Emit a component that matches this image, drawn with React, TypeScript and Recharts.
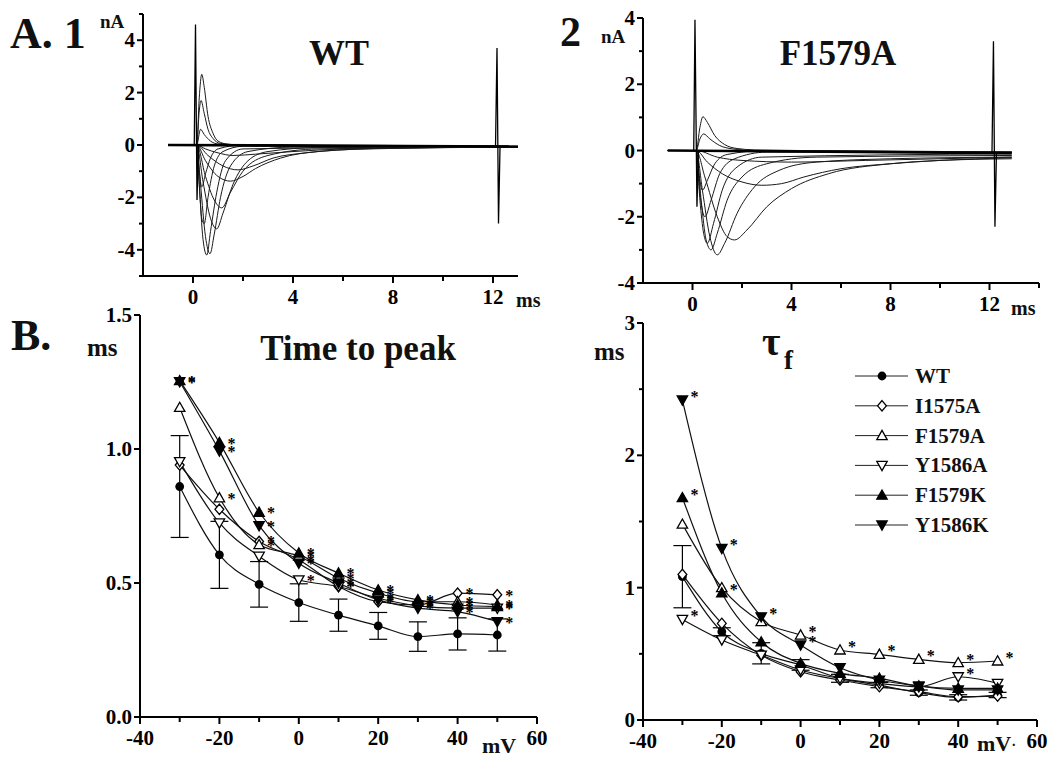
import React from 'react';
import { LineChart, Line, XAxis, YAxis, ErrorBar } from 'recharts';

const FONT = '"Liberation Serif", "Times New Roman", serif';
const boldStyle = { fontFamily: FONT, fontWeight: 700 } as const;

// ---- A: current traces, points are [ms, nA] ----
const wtBaseline = [[-1, 0], [13, -0.06]];
const wtSpikes = [
  [[0.05, 0], [0.1, 4.6], [0.16, -2.1], [0.22, 0]],
  [[12.1, -0.1], [12.16, 3.7], [12.22, -3.0], [12.28, -0.1]],
];
const wtTraces = [
  [[-1, 0], [0.15, 0], [0.25, 1.8], [0.35, 2.7], [0.45, 2.2], [0.6, 1.1], [0.8, 0.45], [1.0, 0.15], [1.4, 0.03], [2, 0], [13, -0.05]],
  [[-1, 0], [0.15, 0], [0.25, 1.3], [0.32, 1.7], [0.45, 1.2], [0.6, 0.6], [0.8, 0.25], [1.1, 0.06], [2, 0], [13, -0.05]],
  [[-1, 0], [0.15, 0], [0.3, 0.6], [0.45, 0.4], [0.7, 0.15], [1.0, 0.04], [2, 0], [13, -0.05]],
  [[-1, 0], [0.15, 0], [0.5, -0.15], [1.0, -0.3], [1.6, -0.4], [2.5, -0.35], [4, -0.25], [6, -0.15], [9, -0.1], [13, -0.08]],
  [[-1, 0], [0.15, 0], [0.6, -0.4], [1.2, -0.8], [1.8, -0.95], [2.4, -0.8], [3.2, -0.5], [4.5, -0.3], [7, -0.15], [13, -0.08]],
  [[-1, 0], [0.15, 0], [0.5, -0.6], [1.0, -1.2], [1.5, -1.38], [2.0, -1.2], [2.5, -0.9], [3.5, -0.5], [5, -0.25], [8, -0.12], [13, -0.08]],
  [[-1, 0], [0.15, 0], [0.5, -1.2], [0.85, -2.1], [1.15, -2.4], [1.5, -1.8], [2.0, -1.0], [3, -0.4], [5, -0.15], [13, -0.08]],
  [[-1, 0], [0.15, 0], [0.4, -1.4], [0.7, -2.8], [0.95, -3.2], [1.2, -2.6], [1.6, -1.5], [2.2, -0.6], [3, -0.25], [5, -0.1], [13, -0.08]],
  [[-1, 0], [0.15, 0], [0.3, -1.5], [0.5, -3.5], [0.68, -4.15], [0.85, -3.4], [1.1, -2.0], [1.5, -0.8], [2.2, -0.25], [4, -0.08], [13, -0.06]],
  [[-1, 0], [0.15, 0], [0.25, -1.5], [0.4, -3.6], [0.55, -4.2], [0.7, -3.3], [0.95, -1.8], [1.3, -0.6], [2, -0.15], [13, -0.05]],
  [[-1, 0], [0.15, 0], [0.25, -1.5], [0.35, -2.8], [0.45, -3.0], [0.6, -2.0], [0.85, -0.8], [1.2, -0.25], [2, -0.05], [13, -0.05]],
  [[-1, 0], [0.15, 0], [0.25, -1.0], [0.35, -1.6], [0.5, -1.1], [0.7, -0.5], [1, -0.15], [2, 0], [13, -0.05]],
];

const mutBaseline = [[-1, 0], [12.9, -0.08]];
const mutSpikes = [
  [[0.05, 0], [0.1, 3.95], [0.18, -1.7], [0.24, 0]],
  [[12.1, -0.1], [12.16, 3.3], [12.22, -2.3], [12.28, -0.1]],
];
const mutTraces = [
  [[-1, 0], [0.15, 0], [0.3, 0.7], [0.42, 1.02], [0.6, 0.85], [0.9, 0.45], [1.3, 0.18], [1.8, 0.06], [2.5, 0.02], [12.9, -0.05]],
  [[-1, 0], [0.15, 0], [0.3, 0.35], [0.45, 0.5], [0.7, 0.35], [1.1, 0.15], [1.6, 0.05], [2.5, 0], [12.9, -0.05]],
  [[-1, 0], [0.15, 0], [1, -0.2], [2, -0.3], [4, -0.35], [7, -0.3], [10, -0.25], [12.9, -0.2]],
  [[-1, 0], [0.15, 0], [0.6, -0.35], [1.2, -0.7], [2.0, -0.95], [2.8, -1.05], [3.6, -1.0], [4.5, -0.8], [6, -0.55], [8, -0.4], [10, -0.3], [12.9, -0.22]],
  [[-1, 0], [0.15, 0], [0.5, -0.8], [1.0, -2.0], [1.4, -2.6], [1.7, -2.7], [2.2, -2.4], [3, -1.7], [4, -1.15], [5.5, -0.7], [8, -0.4], [10, -0.3], [12.9, -0.25]],
  [[-1, 0], [0.15, 0], [0.4, -1.2], [0.7, -2.6], [1.0, -3.15], [1.3, -2.8], [1.8, -1.9], [2.5, -1.1], [3.5, -0.6], [5, -0.35], [8, -0.25], [12.9, -0.2]],
  [[-1, 0], [0.15, 0], [0.35, -1.5], [0.55, -2.7], [0.75, -3.0], [1.0, -2.5], [1.4, -1.5], [2, -0.8], [3, -0.4], [5, -0.2], [12.9, -0.15]],
  [[-1, 0], [0.15, 0], [0.3, -1.5], [0.45, -2.5], [0.6, -2.8], [0.85, -2.2], [1.2, -1.2], [1.8, -0.5], [2.8, -0.2], [12.9, -0.1]],
  [[-1, 0], [0.15, 0], [0.3, -1.3], [0.5, -2.0], [0.75, -1.5], [1.1, -0.7], [1.7, -0.25], [3, -0.05], [12.9, -0.05]],
  [[-1, 0], [0.15, 0], [0.28, -0.8], [0.4, -1.2], [0.6, -0.9], [0.9, -0.4], [1.4, -0.12], [3, 0], [12.9, -0.05]],
];

// ---- B: kinetics vs voltage ----
const voltages = [-30, -20, -10, 0, 10, 20, 30, 40, 50];

const ttpWT = [0.86, 0.605, 0.495, 0.427, 0.38, 0.34, 0.3, 0.31, 0.306];
const ttpWTErr = [0.19, 0.125, 0.085, 0.07, 0.06, 0.05, 0.055, 0.06, 0.06];
const ttpI1575A = [0.94, 0.775, 0.655, 0.587, 0.487, 0.43, 0.418, 0.462, 0.456];
const ttpF1579A = [1.155, 0.818, 0.643, 0.6, 0.518, 0.462, 0.43, 0.43, 0.418];
const ttpY1586A = [0.953, 0.724, 0.6, 0.512, 0.487, 0.443, 0.415, 0.406, 0.406];
const ttpF1579K = [1.255, 1.024, 0.764, 0.612, 0.537, 0.474, 0.437, 0.418, 0.412];
const ttpY1586K = [1.251, 0.993, 0.714, 0.574, 0.5, 0.437, 0.406, 0.393, 0.356];

const tauWT = [1.083, 0.667, 0.504, 0.416, 0.315, 0.264, 0.207, 0.171, 0.189];
const tauWTErr = [0.235, 0.03, 0.08, 0.04, 0.03, 0.02, 0.02, 0.02, 0.02];
const tauI1575A = [1.1, 0.73, 0.49, 0.365, 0.302, 0.252, 0.214, 0.176, 0.181];
const tauF1579A = [1.48, 1.0, 0.743, 0.642, 0.529, 0.496, 0.458, 0.433, 0.446];
const tauY1586A = [0.76, 0.605, 0.49, 0.378, 0.315, 0.277, 0.252, 0.327, 0.277];
const tauF1579K = [1.68, 0.96, 0.59, 0.428, 0.353, 0.315, 0.257, 0.239, 0.239];
const tauY1586K = [2.418, 1.297, 0.78, 0.567, 0.395, 0.302, 0.257, 0.227, 0.227];

// significance marks (asterisks)
const N = false, Y = true;
const ttpSig = {
  WT: [N, N, N, N, N, N, N, N, N],
  I1575A: [N, N, Y, Y, Y, Y, Y, Y, Y],
  F1579A: [N, Y, Y, Y, Y, Y, Y, Y, Y],
  Y1586A: [N, N, N, Y, Y, Y, Y, Y, Y],
  F1579K: [Y, Y, Y, Y, Y, Y, Y, Y, Y],
  Y1586K: [Y, Y, Y, Y, Y, Y, Y, Y, Y],
};
const tauSig = {
  WT: [N, N, N, N, N, N, N, N, N],
  I1575A: [N, N, N, N, N, N, N, N, N],
  F1579A: [N, N, N, Y, Y, Y, Y, Y, Y],
  Y1586A: [Y, N, N, N, N, N, N, Y, N],
  F1579K: [Y, Y, N, N, N, N, N, N, N],
  Y1586K: [Y, Y, Y, Y, N, N, N, N, N],
};

const seriesNames = ['WT', 'I1575A', 'F1579A', 'Y1586A', 'F1579K', 'Y1586K'];
const seriesShapes = ['circle', 'diamond', 'up', 'down', 'upFill', 'downFill'];
const ttpValues = [ttpWT, ttpI1575A, ttpF1579A, ttpY1586A, ttpF1579K, ttpY1586K];
const tauValues = [tauWT, tauI1575A, tauF1579A, tauY1586A, tauF1579K, tauY1586K];

const toPts = (arr: number[][]) => arr.map(([t, i]) => ({ t, i }));

const buildSeries = (vals: number[], sig: boolean[], err?: number[]) =>
  voltages.map((v, k) => ({ v, y: vals[k], sig: sig[k], err: err ? err[k] : undefined }));

function Marker({ cx, cy, shape }: { cx: number; cy: number; shape: string }) {
  const s = 5.2;
  switch (shape) {
    case 'circle':
      return <circle cx={cx} cy={cy} r={4.4} fill="#000" />;
    case 'diamond':
      return <polygon points={`${cx},${cy - s} ${cx + 4.4},${cy} ${cx},${cy + s} ${cx - 4.4},${cy}`} fill="#fff" stroke="#000" strokeWidth={1.3} />;
    case 'up':
    case 'upFill':
      return <polygon points={`${cx},${cy - s} ${cx + s},${cy + 4} ${cx - s},${cy + 4}`} fill={shape === 'up' ? '#fff' : '#000'} stroke="#000" strokeWidth={1.3} />;
    default:
      return <polygon points={`${cx},${cy + s} ${cx + s},${cy - 4} ${cx - s},${cy - 4}`} fill={shape === 'down' ? '#fff' : '#000'} stroke="#000" strokeWidth={1.3} />;
  }
}

const makeDot = (shape: string, dx: number, dy: number) => (p: any) => {
  const { cx, cy, index, payload } = p;
  if (cx == null || cy == null) return <g key={`e${index}`} />;
  return (
    <g key={`d${index}`}>
      <Marker cx={cx} cy={cy} shape={shape} />
      {payload.sig && (
        <text x={cx + dx} y={cy + dy} fontFamily="Liberation Serif" fontWeight={700} fontSize={16} fill="#000" textAnchor="middle">*</text>
      )}
    </g>
  );
};

const bottomTick = (labels: number[], fmt?: (v: number) => string) => (p: any) => {
  const { x, y, payload } = p;
  const v = payload.value;
  const major = labels.some((l) => Math.abs(l - v) < 1e-6);
  return (
    <g key={`bt${v}`}>
      <line x1={x} y1={y} x2={x} y2={y + (major ? 7 : 5)} stroke="#000" strokeWidth={2} />
      {major && (
        <text x={x} y={y + 28} textAnchor="middle" fontFamily="Liberation Serif" fontWeight={700} fontSize={21} fill="#000">
          {fmt ? fmt(v) : String(v)}
        </text>
      )}
    </g>
  );
};

const leftTick = (labels: number[], fmt?: (v: number) => string) => (p: any) => {
  const { x, y, payload } = p;
  const v = payload.value;
  const major = labels.some((l) => Math.abs(l - v) < 1e-6);
  return (
    <g key={`lt${v}`}>
      <line x1={x} y1={y} x2={x - (major ? 6 : 4)} y2={y} stroke="#000" strokeWidth={2} />
      {major && (
        <text x={x - 8} y={y + 7} textAnchor="end" fontFamily="Liberation Serif" fontWeight={700} fontSize={21} fill="#000">
          {fmt ? fmt(v) : String(v)}
        </text>
      )}
    </g>
  );
};

const axisLine = { stroke: '#000', strokeWidth: 2 };

function TracePanel(props: {
  left: number; top: number; width: number; height: number; marginTop: number; marginRight: number;
  xDomain: number[]; xTicks: number[]; yDomain: number[]; yTicks: number[]; yLabels: number[];
  baseline: number[][]; spikes: number[][][]; traces: number[][][];
}) {
  const p = props;
  return (
    <div style={{ position: 'absolute', left: p.left, top: p.top }}>
      <LineChart width={p.width} height={p.height} margin={{ top: p.marginTop, right: p.marginRight, bottom: 0, left: 0 }}>
        <XAxis type="number" dataKey="t" domain={p.xDomain} ticks={p.xTicks} interval={0} allowDataOverflow
          height={40} axisLine={axisLine} tickLine={false} tickSize={0} tickMargin={0} tick={bottomTick([0, 4, 8, 12])} />
        <YAxis type="number" dataKey="i" domain={p.yDomain} ticks={p.yTicks} interval={0} allowDataOverflow
          width={60} axisLine={axisLine} tickLine={false} tickSize={0} tickMargin={0} tick={leftTick(p.yLabels)} />
        {p.traces.map((tr, k) => (
          <Line key={`tr${k}`} data={toPts(tr)} dataKey="i" type="monotone" stroke="#1a1a1a" strokeWidth={1} dot={false} isAnimationActive={false} />
        ))}
        <Line data={toPts(p.baseline)} dataKey="i" type="linear" stroke="#000" strokeWidth={2.6} dot={false} isAnimationActive={false} />
        {p.spikes.map((sp, k) => (
          <Line key={`sp${k}`} data={toPts(sp)} dataKey="i" type="linear" stroke="#000" strokeWidth={1.3} dot={false} isAnimationActive={false} />
        ))}
      </LineChart>
    </div>
  );
}

function KineticsPanel(props: {
  left: number; top: number; width: number; height: number; marginTop: number; marginRight: number;
  yDomain: number[]; yTicks: number[]; yLabels: number[]; yFmt: (v: number) => string;
  values: number[][]; sig: Record<string, boolean[]>; wtErr: number[]; starDx: number; starDy: number;
}) {
  const p = props;
  return (
    <div style={{ position: 'absolute', left: p.left, top: p.top }}>
      <LineChart width={p.width} height={p.height} margin={{ top: p.marginTop, right: p.marginRight, bottom: 0, left: 0 }}>
        <XAxis type="number" dataKey="v" domain={[-40, 60]} ticks={[-40, -30, -20, -10, 0, 10, 20, 30, 40, 50, 60]} interval={0}
          height={40} axisLine={axisLine} tickLine={false} tickSize={0} tickMargin={0} tick={bottomTick([-40, -20, 0, 20, 40, 60])} />
        <YAxis type="number" dataKey="y" domain={p.yDomain} ticks={p.yTicks} interval={0} allowDataOverflow
          width={60} axisLine={axisLine} tickLine={false} tickSize={0} tickMargin={0} tick={leftTick(p.yLabels, p.yFmt)} />
        {seriesNames.map((name, k) => (
          <Line key={name} name={name} data={buildSeries(p.values[k], p.sig[name], k === 0 ? p.wtErr : undefined)}
            dataKey="y" type="monotone" stroke="#111" strokeWidth={1.2}
            dot={makeDot(seriesShapes[k], p.starDx, p.starDy)} activeDot={false} isAnimationActive={false}>
            {k === 0 && <ErrorBar dataKey="err" width={9} stroke="#000" strokeWidth={1.2} direction="y" />}
          </Line>
        ))}
      </LineChart>
    </div>
  );
}

function LegendRows({ x, y }: { x: number; y: number }) {
  return (
    <g>
      {seriesNames.map((name, k) => {
        const cy = y + k * 29.8;
        return (
          <g key={name}>
            <line x1={x} y1={cy} x2={x + 53} y2={cy} stroke="#222" strokeWidth={1} />
            <Marker cx={x + 27} cy={cy} shape={seriesShapes[k]} />
            <text x={x + 60} y={cy + 7} style={boldStyle} fontSize={21} fill="#111">{name}</text>
          </g>
        );
      })}
    </g>
  );
}

const txt = (x: number, y: number, s: string, size: number, anchor: 'start' | 'middle' | 'end' = 'start') => (
  <text x={x} y={y} style={boldStyle} fontSize={size} textAnchor={anchor} fill="#111">{s}</text>
);

export default function App() {
  return (
    <div style={{ position: 'absolute', left: 0, top: 0, width: 1063, height: 767, background: '#fff', overflow: 'hidden' }}>
      <TracePanel left={83} top={0} width={450} height={316} marginTop={14} marginRight={15}
        xDomain={[-2, 13]} xTicks={[0, 2, 4, 6, 8, 10, 12]} yDomain={[-5, 5]}
        yTicks={[-5, -4, -3, -2, -1, 0, 1, 2, 3, 4, 5]} yLabels={[-4, -2, 0, 2, 4]}
        baseline={wtBaseline} spikes={wtSpikes} traces={wtTraces} />
      <TracePanel left={583} top={0} width={480} height={323} marginTop={18} marginRight={24}
        xDomain={[-2, 14]} xTicks={[0, 2, 4, 6, 8, 10, 12, 14]} yDomain={[-4, 4]}
        yTicks={[-4, -3, -2, -1, 0, 1, 2, 3, 4]} yLabels={[-4, -2, 0, 2, 4]}
        baseline={mutBaseline} spikes={mutSpikes} traces={mutTraces} />
      <KineticsPanel left={80} top={300} width={467} height={457} marginTop={15} marginRight={10}
        yDomain={[0, 1.5]} yTicks={[0, 0.5, 1, 1.5]} yLabels={[0, 0.5, 1, 1.5]} yFmt={(v) => v.toFixed(1)}
        values={ttpValues} sig={ttpSig} wtErr={ttpWTErr} starDx={12} starDy={6} />
      <KineticsPanel left={583} top={300} width={474} height={460} marginTop={23} marginRight={20}
        yDomain={[0, 3]} yTicks={[0, 0.5, 1, 1.5, 2, 2.5, 3]} yLabels={[0, 1, 2, 3]} yFmt={(v) => String(v)}
        values={tauValues} sig={tauSig} wtErr={tauWTErr} starDx={12} starDy={2} />
      <svg width={1063} height={767} style={{ position: 'absolute', left: 0, top: 0, pointerEvents: 'none' }}>
        {txt(10, 48, 'A. 1', 44)}
        {txt(560, 46, '2', 42)}
        {txt(100, 28, 'nA', 19)}
        {txt(601, 43, 'nA', 19)}
        {txt(339, 65, 'WT', 36, 'middle')}
        {txt(838, 65, 'F1579A', 35, 'middle')}
        {txt(516, 307, 'ms', 20)}
        {txt(1011, 315, 'ms', 20)}
        {txt(11, 350, 'B.', 44)}
        {txt(87, 356, 'ms', 25)}
        {txt(358, 360, 'Time to peak', 35, 'middle')}
        {txt(594, 360, 'ms', 25)}
        <text x={762} y={355} style={boldStyle} fontSize={40} fill="#111">τ</text>
        <text x={784} y={369} style={boldStyle} fontSize={27} fill="#111">f</text>
        {txt(482, 753, 'mV', 22)}
        {txt(977, 751, 'mV', 22)}
        {txt(1012, 746, '.', 14)}
        <LegendRows x={855} y={376} />
      </svg>
    </div>
  );
}
